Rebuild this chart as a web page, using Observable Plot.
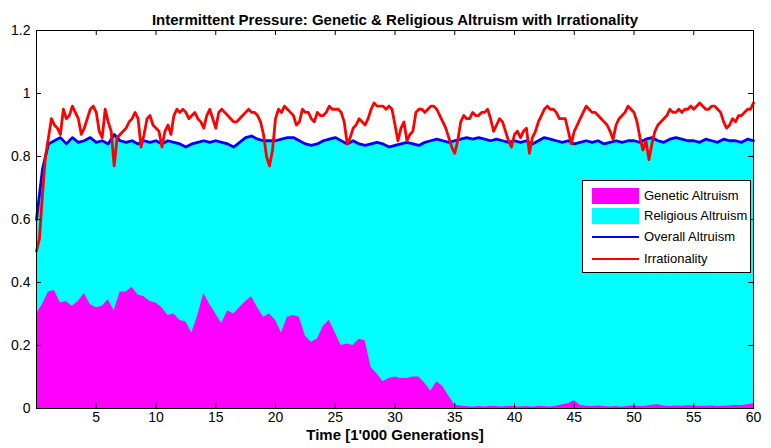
<!DOCTYPE html>
<html><head><meta charset="utf-8">
<script src="https://cdn.jsdelivr.net/npm/d3@7"></script>
<script src="https://cdn.jsdelivr.net/npm/@observablehq/plot@0.6"></script>
<style>
body{margin:0;background:#fff;}
#wrap{position:relative;width:771px;height:448px;}
.legend{position:absolute;left:582px;top:180px;width:167px;height:91px;border:1px solid #000;background:#fff;font:13px "Liberation Sans",Arial,sans-serif;color:#000;}
.row{position:absolute;left:0;height:20px;width:167px;}
.sw{position:absolute;left:9px;width:47px;}
.lb{position:absolute;left:61px;top:2px;white-space:nowrap;}
</style>
</head><body><div id="wrap"></div>
<script>
const title = "Intermittent Pressure: Genetic & Religious Altruism with Irrationality";
const xLabel = "Time [1'000 Generations]";
const xTicks = [5,10,15,20,25,30,35,40,45,50,55,60];
const yTicks = [0,0.2,0.4,0.6,0.8,1,1.2];
const yTickLabels = ["0","0.2","0.4","0.6","0.8","1","1.2"];
const seriesNames = ["Genetic Altruism","Religious Altruism","Overall Altruism","Irrationality"];
const seriesColors = ["#ff00ff","#00ffff","#0000ff","#ff0000"];
const seriesKinds = ["area","area","line","line"];

// genetic altruism, every 0.5 (x1000 generations)
const geneticStep = 0.5;
const genetic = [0.30,0.33,0.37,0.375,0.335,0.34,0.325,0.34,0.365,0.33,
0.32,0.325,0.345,0.31,0.37,0.37,0.385,0.36,0.355,0.34,
0.335,0.32,0.295,0.30,0.28,0.275,0.24,0.295,0.365,0.33,
0.30,0.27,0.31,0.30,0.32,0.34,0.355,0.32,0.29,0.30,
0.28,0.24,0.29,0.295,0.29,0.23,0.21,0.22,0.26,0.28,
0.24,0.20,0.205,0.20,0.22,0.215,0.13,0.11,0.085,0.095,
0.10,0.095,0.095,0.10,0.10,0.08,0.055,0.085,0.07,0.04,
0.01,0.008,0.006,0.004,0.006,0.005,0.007,0.006,0.005,0.007,
0.006,0.005,0.006,0.004,0.007,0.006,0.005,0.007,0.012,0.015,
0.025,0.01,0.007,0.006,0.008,0.006,0.005,0.006,0.004,0.007,
0.008,0.006,0.007,0.01,0.012,0.008,0.006,0.008,0.007,0.009,
0.008,0.006,0.007,0.008,0.006,0.007,0.008,0.01,0.009,0.012,0.015];

// overall altruism (genetic + religious), every 0.5
const overallStep = 0.5;
const overall = [0.60,0.76,0.84,0.85,0.86,0.84,0.86,0.845,0.85,0.86,
0.845,0.85,0.84,0.87,0.85,0.845,0.85,0.84,0.85,0.845,
0.85,0.84,0.85,0.845,0.84,0.83,0.84,0.845,0.85,0.845,
0.85,0.845,0.84,0.83,0.845,0.86,0.865,0.855,0.85,0.85,
0.85,0.855,0.86,0.86,0.85,0.84,0.835,0.84,0.85,0.855,
0.86,0.85,0.84,0.85,0.84,0.835,0.84,0.845,0.84,0.83,
0.835,0.84,0.845,0.84,0.835,0.845,0.85,0.855,0.85,0.845,
0.85,0.855,0.86,0.855,0.86,0.855,0.85,0.855,0.85,0.845,
0.85,0.845,0.85,0.84,0.85,0.86,0.855,0.85,0.845,0.85,
0.84,0.845,0.85,0.845,0.85,0.84,0.845,0.85,0.845,0.85,
0.85,0.845,0.855,0.86,0.85,0.845,0.855,0.86,0.855,0.85,
0.85,0.845,0.855,0.85,0.845,0.855,0.85,0.85,0.845,0.855,0.85];

// irrationality, every 0.25
const irrStep = 0.25;
const irrationality = [0.50,0.54,0.68,0.80,0.86,0.92,0.90,0.89,0.87,0.95,
0.92,0.93,0.96,0.94,0.92,0.87,0.89,0.92,0.95,0.96,
0.94,0.88,0.86,0.95,0.91,0.88,0.77,0.86,0.87,0.88,
0.89,0.91,0.92,0.94,0.92,0.83,0.87,0.92,0.93,0.90,
0.89,0.88,0.83,0.88,0.90,0.87,0.93,0.95,0.94,0.95,
0.94,0.92,0.93,0.94,0.92,0.91,0.89,0.93,0.95,0.92,
0.89,0.94,0.95,0.94,0.93,0.92,0.91,0.91,0.92,0.93,
0.94,0.95,0.94,0.94,0.93,0.91,0.87,0.80,0.77,0.82,
0.92,0.95,0.94,0.96,0.95,0.94,0.93,0.90,0.91,0.95,
0.94,0.94,0.92,0.91,0.94,0.93,0.93,0.94,0.96,0.95,
0.95,0.95,0.94,0.91,0.84,0.86,0.89,0.90,0.92,0.91,
0.90,0.92,0.95,0.97,0.96,0.96,0.96,0.95,0.96,0.95,
0.90,0.85,0.89,0.91,0.85,0.87,0.88,0.94,0.95,0.95,
0.94,0.95,0.96,0.96,0.95,0.93,0.91,0.89,0.86,0.83,
0.81,0.85,0.91,0.93,0.92,0.92,0.94,0.93,0.93,0.94,
0.94,0.95,0.92,0.88,0.90,0.92,0.91,0.88,0.85,0.83,
0.87,0.88,0.86,0.88,0.89,0.81,0.86,0.88,0.91,0.93,
0.95,0.96,0.95,0.95,0.94,0.92,0.92,0.92,0.88,0.84,
0.88,0.90,0.92,0.94,0.96,0.95,0.94,0.94,0.93,0.92,
0.91,0.90,0.88,0.855,0.90,0.92,0.93,0.94,0.96,0.95,
0.94,0.91,0.86,0.82,0.85,0.79,0.84,0.88,0.90,0.91,
0.92,0.93,0.95,0.94,0.94,0.95,0.94,0.95,0.95,0.96,
0.95,0.96,0.97,0.96,0.95,0.95,0.96,0.96,0.95,0.94,
0.91,0.89,0.90,0.92,0.91,0.93,0.93,0.94,0.95,0.95,0.97];

const gData = genetic.map((v,i)=>({t:i*geneticStep, v}));
const oData = overall.map((v,i)=>({t:i*overallStep, v}));
const iData = irrationality.map((v,i)=>({t:i*irrStep, v}));

const font = "'Liberation Sans', Arial, sans-serif";
const narrow = "'Liberation Sans Narrow', 'Liberation Sans', Arial";
const chart = Plot.plot({
  width: 771, height: 448,
  marginLeft: 36, marginRight: 18, marginTop: 30, marginBottom: 40,
  x: {domain: [0, 60]},
  y: {domain: [0, 1.2]},
  style: {fontFamily: font, fontSize: "14px", background: "#fff", color: "#000"},
  marks: [
    Plot.areaY(oData, {x: "t", y: "v", fill: seriesColors[1]}),
    Plot.areaY(gData, {x: "t", y: "v", fill: seriesColors[0]}),
    Plot.line(oData, {x: "t", y: "v", stroke: seriesColors[2], strokeWidth: 2.8}),
    Plot.line(iData, {x: "t", y: "v", stroke: seriesColors[3], strokeWidth: 2.8}),
    Plot.ruleX(xTicks, {x: d=>d, y1: 0, y2: 0.016, stroke: "#000"}),
    Plot.ruleX(xTicks, {x: d=>d, y1: 1.2, y2: 1.184, stroke: "#000"}),
    Plot.ruleY(yTicks, {y: d=>d, x1: 0, x2: 0.42, stroke: "#000"}),
    Plot.ruleY(yTicks, {y: d=>d, x1: 60, x2: 59.58, stroke: "#000"}),
    Plot.frame({stroke: "#000"}),
    Plot.axisX(xTicks, {tickSize: 0, tickPadding: 4, label: null, fontSize: 14}),
    Plot.axisY(yTicks, {tickSize: 0, tickPadding: 6, label: null, fontSize: 14,
      tickFormat: d => yTickLabels[yTicks.indexOf(d)]}),
    Plot.text([title], {text: d=>d, frameAnchor: "top", dy: -16, fontWeight: "bold", fontSize: 15, fontFamily: narrow}),
    Plot.text([xLabel], {text: d=>d, frameAnchor: "bottom", dy: 31, fontWeight: "bold", fontSize: 15, fontFamily: narrow})
  ]
});
const wrap = document.getElementById("wrap");
wrap.appendChild(chart);

const legend = document.createElement("div");
legend.className = "legend";
const rowTops = [5, 25, 46, 68];
seriesNames.forEach((name, i) => {
  const row = document.createElement("div");
  row.className = "row";
  row.style.top = rowTops[i] + "px";
  const sw = document.createElement("div");
  sw.className = "sw";
  if (seriesKinds[i] === "area") { sw.style.top = "2px"; sw.style.height = "16px"; sw.style.background = seriesColors[i]; }
  else { sw.style.top = "9px"; sw.style.height = "2px"; sw.style.background = seriesColors[i]; }
  const lb = document.createElement("div");
  lb.className = "lb";
  lb.textContent = name;
  row.appendChild(sw); row.appendChild(lb);
  legend.appendChild(row);
});
wrap.appendChild(legend);
</script>
</body></html>
